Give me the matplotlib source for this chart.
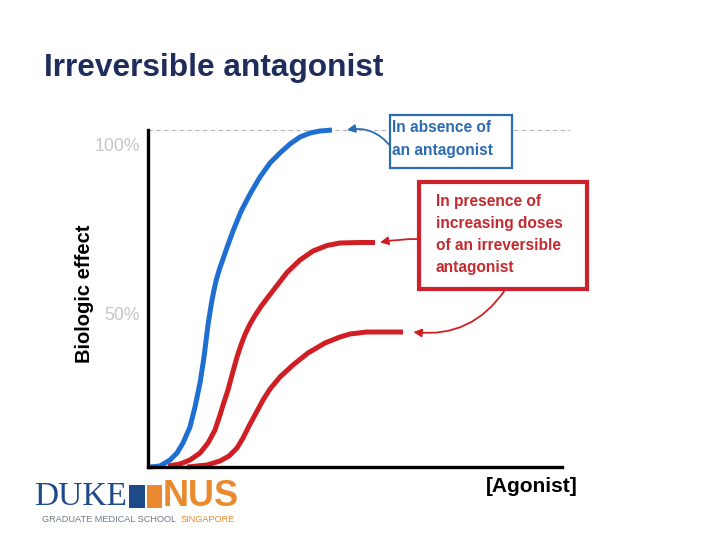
import matplotlib
matplotlib.use("Agg")
import matplotlib.pyplot as plt
from matplotlib.patches import Rectangle

# =========================
# Data (x: agonist, arbitrary 0-100; y: % effect)
# =========================
blue_x = [0.48, 2.90, 5.31, 7.00, 8.45, 10.14, 11.35, 12.56, 13.53, 14.25, 14.49, 14.98,
          15.46, 15.94, 16.43, 16.91, 17.39, 18.12, 19.08, 20.53, 22.46, 24.64, 27.05,
          29.47, 31.88, 34.30, 36.71, 39.13, 41.55, 44.44]
blue_y = [0.0, 0.30, 2.08, 4.15, 7.12, 11.87, 17.80, 24.93, 32.64, 39.76, 42.14, 45.99,
          49.55, 52.52, 55.19, 57.27, 59.20, 61.72, 65.13, 70.03, 75.82, 81.01, 86.05,
          90.21, 93.18, 95.85, 97.92, 99.11, 99.70, 100.0]

red1_x = [4.83, 7.73, 10.14, 12.56, 14.49, 16.18, 17.39, 18.36, 19.32, 20.29, 21.50,
          22.46, 23.43, 24.64, 25.85, 27.29, 28.74, 31.16, 33.57, 36.71, 39.86, 43.24,
          46.38, 51.21, 54.83]
red1_y = [0.30, 0.89, 2.08, 4.15, 7.12, 10.98, 15.43, 19.29, 22.85, 27.30, 32.64,
          36.20, 39.32, 42.43, 44.96, 47.63, 50.00, 53.86, 57.72, 61.42, 64.09, 65.73,
          66.47, 66.62, 66.62]

red2_x = [9.42, 14.25, 17.39, 19.57, 21.50, 22.95, 24.40, 26.09, 27.78, 29.47, 31.88,
          35.02, 38.65, 42.75, 46.38, 48.79, 52.90, 61.59]
red2_y = [0.0, 0.59, 1.78, 3.26, 5.64, 8.61, 12.17, 16.02, 19.88, 23.15, 26.71,
          30.27, 33.83, 36.80, 38.58, 39.47, 40.06, 40.06]

tick_vals = [100, 50]
tick_labels = ["100%", "50%"]

BLUE = "#1f6fd2"
RED = "#d01f24"
W, H = 720, 540

def fx(px):
    return px / W

def fy(py):
    return 1 - py / H

fig = plt.figure(figsize=(7.2, 5.4), dpi=100)
fig.patch.set_facecolor("white")
plt.rcParams["font.family"] = ["Liberation Sans", "DejaVu Sans"]

# axes box: left spine at x=148px, bottom at y=467px, top (100%) at y=130px
ax = fig.add_axes([fx(148), fy(467), (562 - 148) / W, (467 - 130) / H])
ax.set_xlim(0, 100)
ax.set_ylim(0, 100)
for s in ["top", "right"]:
    ax.spines[s].set_visible(False)
for s in ["left", "bottom"]:
    ax.spines[s].set_linewidth(2.4)
    ax.spines[s].set_color("black")
ax.set_xticks([])
ax.set_yticks([])

# dashed 100% line
ax.plot([0, 102], [100, 100], ls=(0, (4, 3)), color="#b8b8b8", lw=0.8, clip_on=False)

# curves
for cx, cy, col in [(blue_x, blue_y, BLUE), (red1_x, red1_y, RED), (red2_x, red2_y, RED)]:
    ax.plot(cx, cy, color=col, lw=3.6, solid_capstyle="butt",
            solid_joinstyle="round", clip_on=False)

# gray percent labels
for v, lab in zip(tick_vals, tick_labels):
    ax.text(-1.9, v - 5.0, lab, ha="right", va="center", fontsize=12.7,
            color="#c6c6c6")

# title and axis labels
fig.text(fx(44), fy(68), "Irreversible antagonist", fontsize=22.8, fontweight="bold",
         color="#1e2d5c", ha="left", va="center")
fig.text(fx(84), fy(294), "Biologic effect", rotation=90, fontsize=14.5,
         fontweight="bold", ha="center", va="center", color="black")
fig.text(fx(532), fy(487), "[Agonist]", fontsize=15, fontweight="bold",
         ha="center", va="center", color="black")

# annotation boxes
fig.add_artist(Rectangle((fx(390), fy(168)), (512 - 390) / W, (168 - 115) / H,
                         transform=fig.transFigure, fill=True, facecolor="white",
                         edgecolor="#2a6db3", lw=1.6))
for i, line in enumerate(["In absence of", "an antagonist"]):
    fig.text(fx(392), fy(128 + 23 * i), line, fontsize=11.2, fontweight="bold",
             color="#2d6bb2", ha="left", va="center")

fig.add_artist(Rectangle((fx(419), fy(289)), (587 - 419) / W, (289 - 182) / H,
                         transform=fig.transFigure, fill=True, facecolor="white",
                         edgecolor="#d0212a", lw=3.0))
red_lines = ["In presence of", "increasing doses", "of an irreversible", "antagonist"]
for i, line in enumerate(red_lines):
    fig.text(fx(436), fy(202 + 21.7 * i), line, fontsize=11.2, fontweight="bold",
             color="#c42a2f", ha="left", va="center")

# arrows pointing to curve plateaus
ax.annotate("", xy=(blue_x[-1] + 3.6, blue_y[-1]), xycoords="data",
            xytext=(391, H - 147), textcoords="figure pixels",
            arrowprops=dict(arrowstyle="-|>", color="#2a6db3", lw=1.3,
                            mutation_scale=12, connectionstyle="arc3,rad=0.3",
                            shrinkA=0, shrinkB=0), annotation_clip=False)
ax.annotate("", xy=(red1_x[-1] + 1.2, red1_y[-1]), xycoords="data",
            xytext=(418, H - 239), textcoords="figure pixels",
            arrowprops=dict(arrowstyle="-|>", color=RED, lw=1.3,
                            mutation_scale=12, connectionstyle="arc3,rad=0.05",
                            shrinkA=0, shrinkB=0), annotation_clip=False)
ax.annotate("", xy=(red2_x[-1] + 2.5, red2_y[-1]), xycoords="data",
            xytext=(505, H - 290), textcoords="figure pixels",
            arrowprops=dict(arrowstyle="-|>", color=RED, lw=1.3,
                            mutation_scale=12, connectionstyle="arc3,rad=-0.3",
                            shrinkA=0, shrinkB=0), annotation_clip=False)

# Duke-NUS logo
fig.text(fx(34), fy(497), "DUKE", fontsize=24, family=["Liberation Serif"],
         color="#1f4a8a", ha="left", va="center")
fig.add_artist(Rectangle((fx(129), fy(508)), 16 / W, 23 / H, transform=fig.transFigure,
                         facecolor="#1f4a8a", edgecolor="none"))
fig.add_artist(Rectangle((fx(147), fy(508)), 15 / W, 23 / H, transform=fig.transFigure,
                         facecolor="#e8892f", edgecolor="none"))
fig.text(fx(163), fy(496), "NUS", fontsize=26, fontweight="bold",
         color="#ea8a2e", ha="left", va="center")
fig.text(fx(42), fy(519), "GRADUATE MEDICAL SCHOOL", fontsize=6.6,
         color="#6a7a8a", ha="left", va="center")
fig.text(fx(181), fy(519), "SINGAPORE", fontsize=6.6,
         color="#e8892f", ha="left", va="center")

fig.savefig("out.png", dpi=100, facecolor="white")
